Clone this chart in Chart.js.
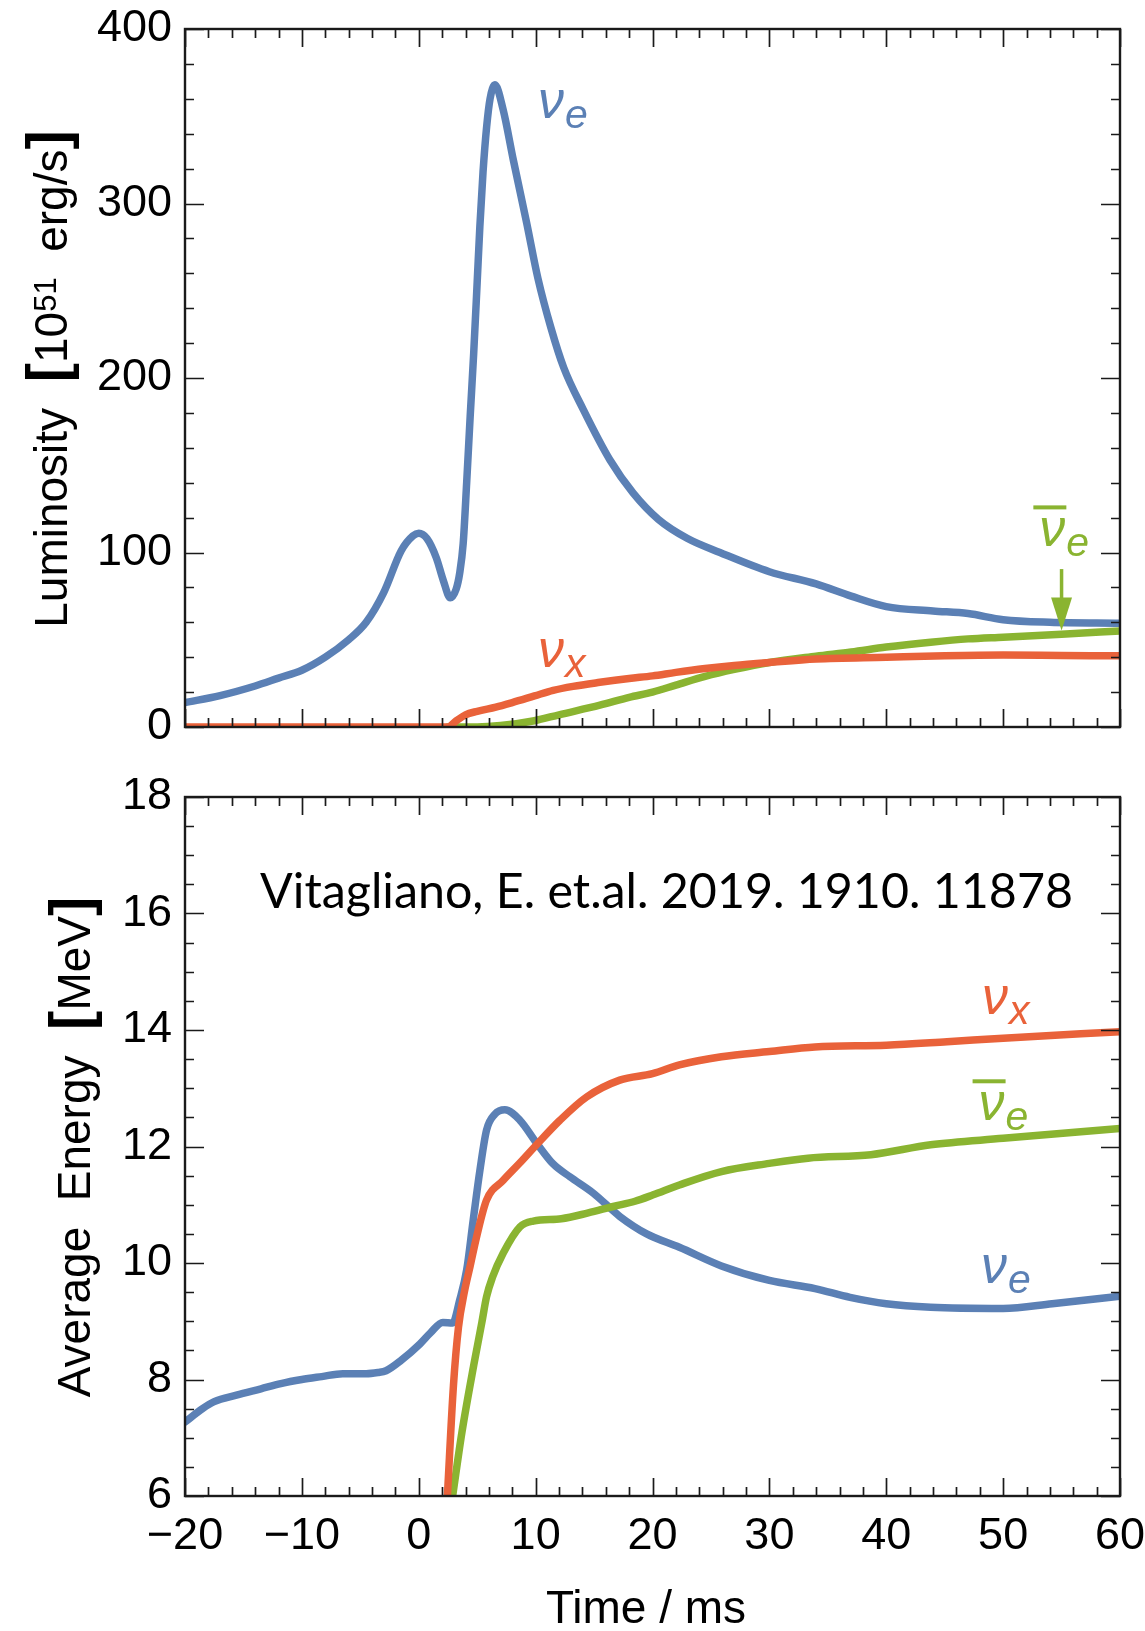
<!DOCTYPE html>
<html><head><meta charset="utf-8">
<script src="https://cdn.jsdelivr.net/npm/chart.js@4.4.0/dist/chart.umd.min.js"></script>
<style>
html,body{margin:0;padding:0;background:#fff;}
#wrap{position:relative;width:1145px;height:1631px;overflow:hidden;background:#fff;}
canvas{position:absolute;left:0;}
#c1{top:0;} #c2{top:760px;}
</style></head><body>
<div id="wrap"><canvas id="c1" width="1145" height="760"></canvas><canvas id="c2" width="1145" height="871"></canvas></div>
<script>
// ---------- DATA ----------
const xTicks = [-20, -10, 0, 10, 20, 30, 40, 50, 60];
const lumTicks = [0, 100, 200, 300, 400];
const energyTicks = [6, 8, 10, 12, 14, 16, 18];

// Luminosity [10^51 erg/s]
const tLumNuE = [-20,-17,-14,-12,-10,-8,-6,-4.5,-3,-1.5,-0.5,0,0.7,1.5,2.1,2.7,3.2,3.5,3.8,4.1,4.4,4.7,5.0,5.23,5.5,5.81,6.1,6.52,7.23,8.09,9.23,10.2,11.3,12.4,14.07,16.36,18.35,20.5,23,25.77,30,34,37,40,44,47,50,54,60];
const lumNuE  = [14,18,23.5,28,32.5,40,50,60,77,101,109.5,111,108,97,84,74,79,88,105,140,178,214,255,287,318,344,360,368,353.5,325,289,257,229,206,182,153,134,119,108,100,89,82,75,69,66.5,65,61.5,60,59.5];
const tLumNuX = [-20,2.5,3.2,4,5,6.6,8,9.9,11.5,13.2,15.5,18,20,22,24.5,27,30,34,40,45,50,55,60];
const lumNuX  = [0,0,3.5,7,9,11.4,14,17.8,21,23.3,25.6,27.8,29.3,31.3,33.5,35.3,37,39,40,40.8,41.2,41,40.8];
const tLumNuEbar = [2.5,5,7,9.9,12,15.5,18,20,22,24.5,27,30,34,37,40,43.8,47,50,55,60];
const lumNuEbar  = [0,0,0.8,3.6,7,12.5,17,20,24,29,33,37,40.6,43,45.8,48.6,50.5,51.5,53.2,55];

// Average energy [MeV]
const tEnNuE = [-20,-18.5,-17.5,-15.6,-13.5,-11.8,-10,-8.3,-6.5,-4.5,-3.5,-2.8,-1.5,0.1,1,2.06,2.9,3.5,4.1,4.66,5.24,5.8,6.5,7.37,8.66,10.08,11.5,12.93,14.93,17.2,19.5,22.3,25.9,30,33.9,36.9,40,43.8,50,54.2,60];
const enNuE  = [7.27,7.5,7.62,7.73,7.84,7.93,8.0,8.05,8.1,8.1,8.12,8.15,8.33,8.61,8.8,8.98,8.97,9.36,9.88,10.74,11.6,12.28,12.55,12.63,12.45,12.06,11.7,11.48,11.2,10.8,10.5,10.27,9.95,9.70,9.56,9.41,9.30,9.24,9.22,9.30,9.43];
const tEnNuX = [2.45,2.97,3.4,3.9,4.4,4.95,5.8,7.23,8.66,10.08,12.08,14.36,17.2,20,22.3,25.9,30,33.9,40,45.2,50,60];
const enNuX  = [6,7.9,8.9,9.5,9.95,10.45,11.08,11.42,11.72,12.03,12.45,12.85,13.14,13.25,13.4,13.54,13.63,13.71,13.74,13.8,13.86,13.97];
const tEnNuEbar = [2.9,3.7,4.7,5.4,5.8,6.3,7.23,8.66,9.8,12.2,14.5,16.64,18.5,20.06,22.3,25.9,30,33.3,38.7,43.8,50,60];
const enNuEbar  = [6,7.1,8.24,8.98,9.42,9.75,10.17,10.62,10.72,10.76,10.86,10.97,11.06,11.17,11.34,11.57,11.71,11.8,11.86,12.03,12.14,12.31];

// ---------- STYLE ----------
const BLUE = '#5B80B5', RED = '#E9623A', GREEN = '#8AB431';
const FONT = '"Liberation Sans", Arial, sans-serif';

function pts(xs, ys){ return xs.map((x,i)=>({x:x, y:ys[i]})); }
function ds(label, xs, ys, color){
  return {label, data: pts(xs, ys), borderColor: color, backgroundColor: color,
    borderWidth: 7.5, pointRadius: 0, fill: false, cubicInterpolationMode: 'monotone',
    borderCapStyle: 'round', borderJoinStyle: 'round'};
}
const fmt = v => String(v).replace('-', '\u2212');

function frameTicks(xMinor, yMinor, yMajor){
  return { id: 'frameTicks', afterDatasetsDraw(chart){
    const ctx = chart.ctx, a = chart.chartArea, xs = chart.scales.x, ys = chart.scales.y;
    ctx.save();
    ctx.strokeStyle = '#1a1a1a'; ctx.lineWidth = 1.7; ctx.beginPath();
    for (let v = xs.min; v <= xs.max + 1e-9; v += xMinor){
      const p = Math.round(xs.getPixelForValue(v)) + 0.5;
      const major = xTicks.some(t => Math.abs(t - v) < 1e-6);
      const L = major ? 18 : 9;
      ctx.moveTo(p, a.bottom); ctx.lineTo(p, a.bottom - L);
      ctx.moveTo(p, a.top); ctx.lineTo(p, a.top + L);
    }
    for (let v = ys.min; v <= ys.max + 1e-9; v += yMinor){
      const p = Math.round(ys.getPixelForValue(v)) + 0.5;
      const major = yMajor.some(t => Math.abs(t - v) < 1e-6);
      const L = major ? 19 : 9;
      ctx.moveTo(a.left, p); ctx.lineTo(a.left + L, p);
      ctx.moveTo(a.right, p); ctx.lineTo(a.right - L, p);
    }
    ctx.stroke();
    ctx.lineWidth = 2.4; ctx.strokeStyle = '#1a1a1a';
    ctx.strokeRect(a.left, a.top, a.right - a.left, a.bottom - a.top);
    ctx.restore();
  }};
}

function drawNu(ctx, x, y, sub, color, bar){
  ctx.save();
  ctx.fillStyle = color; ctx.textAlign = 'left'; ctx.textBaseline = 'alphabetic';
  ctx.font = 'italic 52px ' + FONT;
  ctx.fillText('\u03BD', x, y);
  const w = ctx.measureText('\u03BD').width;
  ctx.font = 'italic 41px ' + FONT;
  ctx.fillText(sub, x + w + 1, y + 10);
  if (bar) ctx.fillRect(x - 6, y - 41, w + 7, 4);
  ctx.restore();
}

function drawRotTitle(ctx, xBase, yCenter, parts){
  ctx.save();
  ctx.translate(xBase, yCenter); ctx.rotate(-Math.PI/2);
  ctx.textBaseline = 'alphabetic'; ctx.textAlign = 'left'; ctx.fillStyle = '#000';
  let total = 0;
  parts.forEach(p => { ctx.font = p.font; p.w = ctx.measureText(p.t).width; total += p.w; });
  let x = -total/2;
  parts.forEach(p => { ctx.font = p.font; ctx.fillText(p.t, x, p.dy || 0); x += p.w; });
  ctx.restore();
}

const F46 = '46px ' + FONT, FB = 'bold 58px ' + FONT, F30 = '31px ' + FONT;

const annotTop = { id: 'annotTop', afterDraw(chart){
  const ctx = chart.ctx, xs = chart.scales.x, ys = chart.scales.y;
  drawNu(ctx, xs.getPixelForValue(10.2), ys.getPixelForValue(349), 'e', BLUE, false);
  drawNu(ctx, xs.getPixelForValue(10.2), ys.getPixelForValue(34.3), 'x', RED, false);
  drawNu(ctx, xs.getPixelForValue(53.1), ys.getPixelForValue(103.5), 'e', GREEN, true);
  // arrow
  const ax = xs.getPixelForValue(55), y0 = ys.getPixelForValue(90.5), y1 = ys.getPixelForValue(55.3);
  ctx.save(); ctx.strokeStyle = GREEN; ctx.fillStyle = GREEN; ctx.lineWidth = 3.5;
  ctx.beginPath(); ctx.moveTo(ax, y0); ctx.lineTo(ax, y1 - 25); ctx.stroke();
  ctx.beginPath(); ctx.moveTo(ax - 10.5, y1 - 33); ctx.lineTo(ax + 10.5, y1 - 33); ctx.lineTo(ax, y1); ctx.closePath(); ctx.fill();
  ctx.restore();
  drawRotTitle(ctx, 67, 379, [
    {t:'Luminosity', font:F46}, {t:'  ', font:F46}, {t:'[', font:FB}, {t:'10', font:F46},
    {t:'51', font:F30, dy:-11}, {t:'  erg/s', font:F46}, {t:']', font:FB}
  ]);
}};

const annotBot = { id: 'annotBot', afterDraw(chart){
  const ctx = chart.ctx, xs = chart.scales.x, ys = chart.scales.y;
  drawNu(ctx, xs.getPixelForValue(48.2), ys.getPixelForValue(14.28), 'x', RED, false);
  drawNu(ctx, xs.getPixelForValue(47.9), ys.getPixelForValue(12.45), 'e', GREEN, true);
  drawNu(ctx, xs.getPixelForValue(48.1), ys.getPixelForValue(9.65), 'e', BLUE, false);
  // citation
  ctx.save();
  const cite = 'Vitagliano, E. et.al. 2019. 1910. 11878';
  ctx.font = '100px Lato, "Open Sans", sans-serif';
  const s = 100 * 813 / ctx.measureText(cite).width;
  ctx.font = s.toFixed(2) + 'px Lato, "Open Sans", sans-serif';
  ctx.fillStyle = '#000'; ctx.textAlign = 'left'; ctx.textBaseline = 'alphabetic';
  ctx.fillText(cite, xs.getPixelForValue(-13.58), ys.getPixelForValue(16.09));
  // x title
  ctx.font = F46; ctx.textAlign = 'center';
  ctx.fillText('Time / ms', 646, 863);
  ctx.restore();
  drawRotTitle(ctx, 90, 387, [
    {t:'Average', font:F46}, {t:'  ', font:F46}, {t:'Energy', font:F46}, {t:'  ', font:F46},
    {t:'[', font:FB}, {t:'MeV', font:F46}, {t:']', font:FB}
  ]);
}};

Chart.defaults.font.family = FONT;
Chart.defaults.color = '#000';

const fitY = s => { s.width = 185; s.paddingTop = 0; s.paddingBottom = 0; };
const fitX = s => { s.height = 135; s.paddingLeft = 0; s.paddingRight = 0; };

new Chart(document.getElementById('c1'), {
  type: 'line',
  data: { datasets: [ ds('νx', tLumNuX, lumNuX, RED), ds('ν̄e', tLumNuEbar, lumNuEbar, GREEN), ds('νe', tLumNuE, lumNuE, BLUE) ] },
  options: {
    responsive: false, animation: false, devicePixelRatio: 1,
    layout: { autoPadding: false, padding: { left: 0, right: 25, top: 29, bottom: 33 } },
    plugins: { legend: { display: false }, tooltip: { enabled: false } },
    scales: {
      x: { type: 'linear', min: -20, max: 60, display: false },
      y: { type: 'linear', min: 0, max: 400,
        afterBuildTicks: s => { s.ticks = lumTicks.map(v => ({value: v})); },
        afterFit: fitY,
        grid: { display: false, drawTicks: false }, border: { display: false },
        ticks: { font: { size: 45 }, padding: 13, color: '#000', callback: fmt } }
    }
  },
  plugins: [frameTicks(2, 20, lumTicks), annotTop]
});

new Chart(document.getElementById('c2'), {
  type: 'line',
  data: { datasets: [ ds('νx', tEnNuX, enNuX, RED), ds('ν̄e', tEnNuEbar, enNuEbar, GREEN), ds('νe', tEnNuE, enNuE, BLUE) ] },
  options: {
    responsive: false, animation: false, devicePixelRatio: 1,
    layout: { autoPadding: false, padding: { left: 0, right: 25, top: 37, bottom: 0 } },
    plugins: { legend: { display: false }, tooltip: { enabled: false } },
    scales: {
      x: { type: 'linear', min: -20, max: 60,
        afterBuildTicks: s => { s.ticks = xTicks.map(v => ({value: v})); },
        afterFit: fitX,
        grid: { display: false, drawTicks: false }, border: { display: false },
        ticks: { font: { size: 45 }, padding: 14, color: '#000', maxRotation: 0, autoSkip: false, callback: fmt } },
      y: { type: 'linear', min: 6, max: 18,
        afterBuildTicks: s => { s.ticks = energyTicks.map(v => ({value: v})); },
        afterFit: fitY,
        grid: { display: false, drawTicks: false }, border: { display: false },
        ticks: { font: { size: 45 }, padding: 13, color: '#000', callback: fmt } }
    }
  },
  plugins: [frameTicks(2, 0.5, energyTicks), annotBot]
});
</script>
</body></html>
